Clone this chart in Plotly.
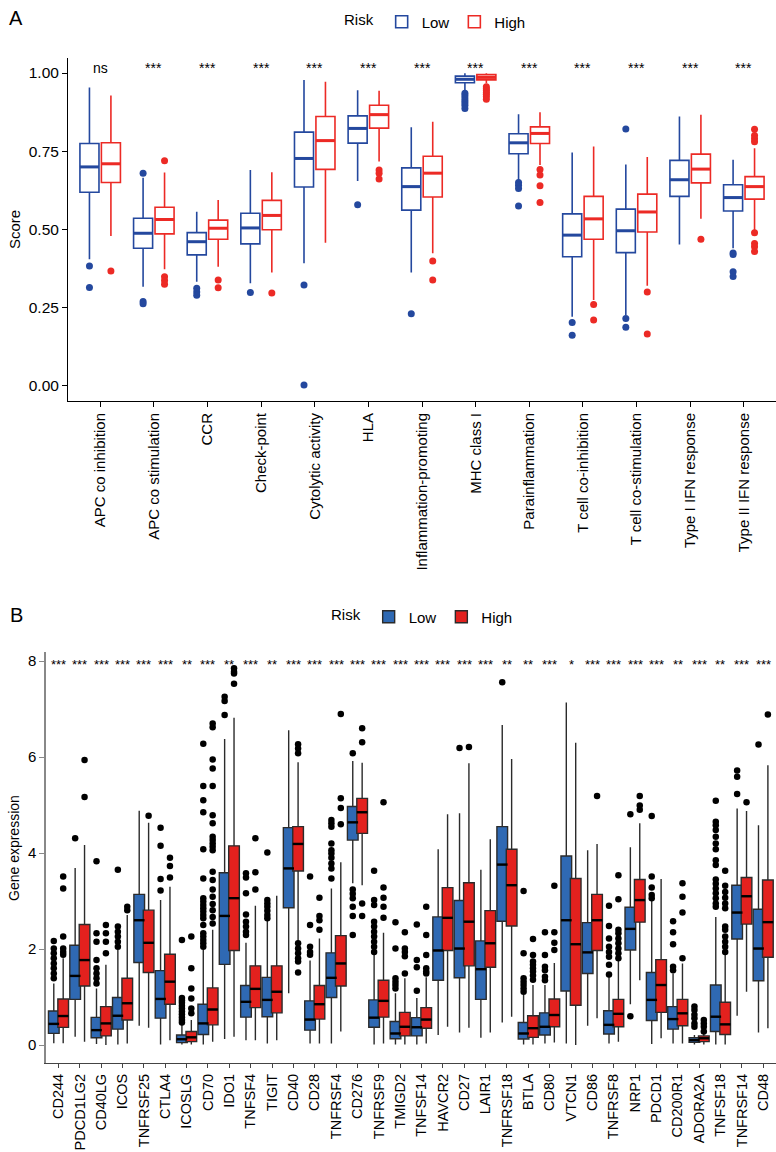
import plotly.graph_objects as go

# ---------------- Panel A data ----------------
cats_A = ["APC co inhibition", "APC co stimulation", "CCR", "Check-point",
          "Cytolytic activity", "HLA", "Inflammation-promoting", "MHC class I",
          "Parainflammation", "T cell co-inhibition", "T cell co-stimulation",
          "Type I IFN response", "Type II IFN response"]
sig_A = ["ns"] + ["***"] * 12

A_low_lf = [0.405, 0.317, 0.333, 0.328, 0.392, 0.655, 0.363, 0.946, 0.658, 0.221, 0.227, 0.452, 0.440]
A_low_q1 = [0.619, 0.440, 0.419, 0.454, 0.636, 0.776, 0.562, 0.969, 0.742, 0.413, 0.426, 0.606, 0.559]
A_low_md = [0.700, 0.488, 0.461, 0.505, 0.727, 0.823, 0.637, 0.980, 0.777, 0.482, 0.496, 0.659, 0.602]
A_low_q3 = [0.775, 0.536, 0.490, 0.552, 0.811, 0.863, 0.697, 0.990, 0.806, 0.550, 0.565, 0.721, 0.643]
A_low_uf = [0.954, 0.665, 0.557, 0.690, 0.978, 0.945, 0.827, 0.999, 0.868, 0.746, 0.708, 0.861, 0.723]
A_low_out = [[0.383, 0.315], [0.680, 0.270, 0.263], [0.312, 0.300, 0.290], [0.299],
             [0.323, 0.003], [0.579], [0.231],
             [0.935, 0.928, 0.920, 0.912, 0.905, 0.897, 0.887],
             [0.650, 0.641, 0.631, 0.575], [0.203, 0.162], [0.821, 0.216, 0.188], [],
             [0.425, 0.420, 0.365, 0.350]]

A_high_lf = [0.479, 0.373, 0.381, 0.363, 0.458, 0.717, 0.424, 0.967, 0.706, 0.275, 0.320, 0.534, 0.498]
A_high_q1 = [0.650, 0.486, 0.469, 0.499, 0.692, 0.824, 0.604, 0.978, 0.775, 0.469, 0.492, 0.649, 0.597]
A_high_md = [0.710, 0.532, 0.504, 0.545, 0.784, 0.867, 0.680, 0.986, 0.807, 0.534, 0.556, 0.693, 0.637]
A_high_q3 = [0.777, 0.571, 0.530, 0.593, 0.861, 0.897, 0.734, 0.995, 0.828, 0.606, 0.613, 0.741, 0.669]
A_high_uf = [0.928, 0.682, 0.594, 0.683, 0.972, 0.943, 0.844, 0.999, 0.875, 0.765, 0.732, 0.867, 0.760]
A_high_out = [[0.367], [0.720, 0.349, 0.337, 0.325], [0.339, 0.314], [0.297], [],
              [0.690, 0.680, 0.661], [0.399, 0.339],
              [0.956, 0.950, 0.944, 0.938, 0.932, 0.925, 0.916],
              [0.692, 0.674, 0.640, 0.586], [0.260, 0.211], [0.300, 0.166], [0.469],
              [0.820, 0.800, 0.790, 0.780, 0.490, 0.455, 0.445, 0.430]]

# ---------------- Panel B data ----------------
genes_B = ["CD244", "PDCD1LG2", "CD40LG", "ICOS", "TNFRSF25", "CTLA4", "ICOSLG", "CD70",
           "IDO1", "TNFSF4", "TIGIT", "CD40", "CD28", "TNFRSF4", "CD276", "TNFRSF9",
           "TMIGD2", "TNFSF14", "HAVCR2", "CD27", "LAIR1", "TNFRSF18", "BTLA", "CD80",
           "VTCN1", "CD86", "TNFRSF8", "NRP1", "PDCD1", "CD200R1", "ADORA2A", "TNFSF18",
           "TNFRSF14", "CD48"]
sig_B = ["***", "***", "***", "***", "***", "***", "**", "***", "**", "***", "**", "***",
         "***", "***", "***", "***", "***", "***", "***", "***", "***", "**", "**", "***",
         "*", "***", "***", "***", "***", "**", "***", "**", "***", "***"]

B_low_lf = [0.035, 0.17, 0.02, 0.01, 0.40, 0.01, 0.01, 0.01, 0.125, 0.10, 0.03, 1.08, 0.03, 0.03,
            3.37, 0.01, 0.01, 0.01, 0.21, 0.26, 0.15, 0.47, 0.01, 0.03, 0.03, 0.40, 0.03, 0.85,
            0.02, 0.03, 0.01, 0.01, 0.61, 0.26]
B_low_q1 = [0.243, 0.95, 0.15, 0.33, 1.72, 0.56, 0.05, 0.22, 1.68, 0.58, 0.59, 2.86, 0.31, 0.99,
            4.27, 0.37, 0.13, 0.19, 1.35, 1.40, 0.95, 2.58, 0.125, 0.21, 1.125, 1.49, 0.23, 1.98,
            0.51, 0.33, 0.055, 0.28, 2.21, 1.34]
B_low_md = [0.44, 1.44, 0.31, 0.61, 2.60, 0.96, 0.12, 0.45, 2.69, 0.90, 0.94, 3.68, 0.53, 1.40,
            4.64, 0.57, 0.24, 0.37, 1.97, 2.01, 1.58, 3.76, 0.24, 0.38, 2.60, 1.93, 0.42, 2.42,
            0.94, 0.54, 0.10, 0.59, 2.76, 2.01]
B_low_q3 = [0.708, 2.08, 0.576, 0.99, 3.14, 1.55, 0.21, 0.85, 3.59, 1.24, 1.41, 4.53, 0.92, 1.92,
            4.97, 0.94, 0.49, 0.57, 2.67, 3.01, 2.17, 4.55, 0.47, 0.67, 3.94, 2.55, 0.715, 2.87,
            1.51, 0.80, 0.15, 1.25, 3.33, 2.83]
B_low_uf = [1.28, 3.69, 1.18, 1.98, 4.88, 3.02, 0.42, 1.98, 6.375, 2.13, 2.60, 6.56, 1.76, 3.26,
            5.92, 1.875, 1.08, 0.98, 4.08, 4.83, 3.65, 6.67, 1.05, 1.25, 7.14, 4.06, 1.42, 4.12,
            3.00, 1.49, 0.21, 2.67, 4.93, 4.58]
B_low_out = [
    [2.17, 2.01, 1.91, 1.81, 1.70, 1.60, 1.49, 1.39],
    [4.31],
    [3.83, 2.33, 2.15, 1.77, 1.60, 1.49, 1.39, 1.28],
    [3.65, 2.47, 2.36, 2.26, 2.15, 2.05],
    [],
    [4.53, 4.15, 3.46, 3.22],
    [2.19, 0.98, 0.93, 0.88, 0.82, 0.76, 0.70, 0.64, 0.58, 0.52, 0.47],
    [6.28, 5.40, 5.10, 4.85, 4.08, 3.47, 3.06, 2.99, 2.92, 2.85, 2.78, 2.71, 2.64, 2.50, 2.33,
     2.26, 2.19, 2.12, 2.05],
    [7.26, 7.17, 6.875],
    [3.58, 3.49, 3.16, 2.72, 2.57, 2.47, 2.36, 2.29],
    [4.01, 3.02, 2.95, 2.88, 2.80, 2.71, 2.64],
    [],
    [3.51, 2.50, 2.05, 1.94, 1.88],
    [4.69, 4.62, 4.55, 4.20, 4.06, 3.99, 3.90, 3.78, 3.68, 3.47],
    [6.08, 3.24, 3.15, 3.06, 2.88, 2.69, 2.29],
    [3.63, 3.02, 2.92, 2.57, 2.47, 2.36, 2.26, 2.15, 2.05, 1.94],
    [2.56, 2.01, 1.39, 1.32, 1.25, 1.18],
    [2.51, 1.77, 1.62, 1.13],
    [],
    [6.19],
    [],
    [7.56],
    [3.21, 1.91, 1.39, 1.32, 1.25, 1.18, 1.11],
    [2.35, 1.875, 1.63, 1.56, 1.42, 1.35],
    [],
    [],
    [2.90, 2.48, 2.22, 2.05, 1.94, 1.84, 1.67, 1.47],
    [4.81, 0.60],
    [4.77, 3.51, 3.28, 3.125, 3.06],
    [2.58, 2.35, 2.10, 1.63, 1.56],
    [0.80, 0.73, 0.63, 0.56, 0.45, 0.38],
    [5.09, 4.65, 4.58, 4.48, 4.34, 4.20, 4.08, 3.85, 3.75, 3.45, 3.36, 3.26, 3.16, 3.06, 2.95, 2.88],
    [5.72, 5.59, 5.23],
    [6.26],
]

B_high_lf = [0.035, 0.07, 0.00, 0.03, 0.36, 0.10, 0.01, 0.07, 0.17, 0.10, 0.10, 2.17, 0.03, 0.28,
             3.33, 0.03, 0.01, 0.03, 0.38, 0.36, 0.26, 0.59, 0.01, 0.05, 0.00, 0.56, 0.07, 1.35,
             0.14, 0.03, 0.01, 0.01, 1.11, 0.35]
B_high_q1 = [0.368, 1.23, 0.19, 0.52, 1.51, 0.85, 0.07, 0.42, 1.97, 0.78, 0.67, 3.625, 0.54, 1.23,
             4.41, 0.58, 0.19, 0.35, 1.97, 1.65, 1.62, 2.48, 0.16, 0.38, 0.83, 1.97, 0.38, 2.56,
             0.68, 0.40, 0.07, 0.22, 2.52, 1.83]
B_high_md = [0.604, 1.77, 0.45, 0.87, 2.13, 1.32, 0.16, 0.74, 3.06, 1.17, 1.11, 4.19, 0.85, 1.70,
             4.85, 0.92, 0.38, 0.53, 2.65, 2.57, 2.12, 3.33, 0.35, 0.625, 2.10, 2.60, 0.65, 3.02,
             1.25, 0.66, 0.14, 0.43, 3.10, 2.56]
B_high_q3 = [0.958, 2.51, 0.80, 1.39, 2.81, 1.89, 0.28, 1.19, 4.15, 1.65, 1.65, 4.55, 1.24, 2.28,
             5.14, 1.35, 0.68, 0.78, 3.28, 3.38, 2.80, 4.08, 0.61, 0.96, 3.47, 3.14, 0.95, 3.45,
             1.78, 0.95, 0.19, 0.89, 3.49, 3.44]
B_high_uf = [1.81, 4.17, 1.67, 2.71, 4.63, 3.30, 0.52, 2.40, 6.82, 2.90, 3.11, 5.89, 2.22, 3.81,
             5.88, 2.34, 1.39, 1.41, 4.81, 5.87, 4.29, 5.96, 1.25, 1.71, 6.30, 4.19, 1.77, 4.62,
             3.46, 1.70, 0.24, 1.875, 4.875, 5.83]
B_high_out = [
    [3.51, 3.26, 2.26, 2.01, 1.94, 1.88],
    [5.94, 5.17],
    [2.50, 2.33, 2.15, 1.91],
    [2.88, 2.81],
    [4.78],
    [3.90, 3.73, 3.49],
    [2.26, 1.60, 1.18, 0.97, 0.76, 0.66],
    [6.70, 6.62, 5.95, 5.76, 5.40, 4.79, 4.62, 4.34, 4.27, 4.20, 4.13, 4.06, 3.61, 3.44, 3.24,
     3.09, 2.94, 2.81, 2.67, 2.53],
    [7.85, 7.78, 7.74, 7.53],
    [4.31, 3.60, 3.24],
    [],
    [6.27, 6.18, 6.08, 2.12, 2.01, 1.91, 1.81, 1.74, 1.51],
    [3.07, 2.69, 2.60, 2.40],
    [6.90, 5.14, 4.94, 4.60],
    [6.60, 6.31, 2.95, 2.69],
    [5.06, 3.28, 3.07, 2.88, 2.65],
    [2.35, 2.01, 1.94, 1.85, 1.49],
    [2.88, 2.29, 1.875, 1.60, 1.53, 1.49],
    [],
    [6.21],
    [],
    [],
    [2.21, 1.875, 1.74, 1.67, 1.60, 1.53, 1.45, 1.36],
    [3.32, 2.35, 2.13, 1.98],
    [],
    [5.19],
    [3.54, 3.04, 2.40, 2.33, 2.22, 2.12, 2.01, 1.91, 1.81],
    [5.19, 4.99, 4.90],
    [],
    [3.37, 3.09, 2.76, 1.81],
    [0.52, 0.45, 0.38, 0.28],
    [3.63, 3.32, 3.19, 3.07, 2.95, 2.85, 2.47, 2.40, 2.26, 2.15, 2.05, 1.94],
    [5.06],
    [6.89],
]

# ---------------- styles ----------------
FONT = "Liberation Sans, Arial, Helvetica, sans-serif"
W, H = 776, 1152
A_BLUE, A_RED = "#24489E", "#EC2A25"
B_BLUE, B_RED, B_EDGE = "#2F69B3", "#E3211E", "#2B2B2B"

fig = go.Figure()


def add_series(xa, ya, offset, width, lf, q1, md, q3, uf, outs, name, line_color,
               fill_color, med_color, pt_color, pt_size, legend, lw, mw):
    n = len(q1)
    xs = [i + offset for i in range(n)]
    fig.add_trace(go.Box(
        x=xs, lowerfence=lf, q1=q1, median=md, q3=q3, upperfence=uf,
        width=width, name=name, line=dict(color=line_color, width=lw),
        fillcolor=fill_color, whiskerwidth=0, boxpoints=False,
        xaxis=xa, yaxis=ya, legend=legend, hoverinfo="skip"))
    mx, my = [], []
    for i in range(n):
        mx += [xs[i] - width / 2, xs[i] + width / 2, None]
        my += [md[i], md[i], None]
    fig.add_trace(go.Scatter(x=mx, y=my, mode="lines", line=dict(color=med_color, width=mw),
                             xaxis=xa, yaxis=ya, showlegend=False, hoverinfo="skip"))
    ox, oy = [], []
    for i in range(n):
        for v in outs[i]:
            ox.append(xs[i])
            oy.append(v)
    fig.add_trace(go.Scatter(x=ox, y=oy, mode="markers",
                             marker=dict(color=pt_color, size=pt_size, line=dict(width=0)),
                             xaxis=xa, yaxis=ya, showlegend=False, hoverinfo="skip"))


# Panel A (open boxes)
add_series("x", "y", -0.2, 0.355, A_low_lf, A_low_q1, A_low_md, A_low_q3, A_low_uf, A_low_out,
           "Low", A_BLUE, "white", A_BLUE, A_BLUE, 7, "legend", 1.6, 3)
add_series("x", "y", 0.2, 0.355, A_high_lf, A_high_q1, A_high_md, A_high_q3, A_high_uf, A_high_out,
           "High", A_RED, "white", A_RED, A_RED, 7, "legend", 1.6, 3)

# Panel B (filled boxes)
add_series("x2", "y2", -0.22, 0.5, B_low_lf, B_low_q1, B_low_md, B_low_q3, B_low_uf, B_low_out,
           "Low", B_EDGE, B_BLUE, "black", "black", 6.5, "legend2", 1.4, 2.4)
add_series("x2", "y2", 0.22, 0.5, B_high_lf, B_high_q1, B_high_md, B_high_q3, B_high_uf, B_high_out,
           "High", B_EDGE, B_RED, "black", "black", 6.5, "legend2", 1.4, 2.4)

ann = []
for i, s in enumerate(sig_A):
    ann.append(dict(x=i, y=1.016, xref="x", yref="y", text=s, showarrow=False,
                    font=dict(size=14, color="black"), yanchor="middle"))
for i, s in enumerate(sig_B):
    ann.append(dict(x=i, y=7.94, xref="x2", yref="y2", text=s, showarrow=False,
                    font=dict(size=13, color="black"), yanchor="middle"))
ann += [
    dict(x=7 / W, y=1 - 18 / H, xref="paper", yref="paper", text="A", showarrow=False,
         xanchor="left", yanchor="middle", font=dict(size=20, color="black")),
    dict(x=8 / W, y=1 - 615 / H, xref="paper", yref="paper", text="B", showarrow=False,
         xanchor="left", yanchor="middle", font=dict(size=20, color="black")),
    dict(x=14 / W, y=1 - 229 / H, xref="paper", yref="paper", text="Score", showarrow=False,
         textangle=-90, xanchor="center", yanchor="middle", font=dict(size=15, color="black")),
    dict(x=14 / W, y=1 - 848 / H, xref="paper", yref="paper", text="Gene expression",
         showarrow=False, textangle=-90, xanchor="center", yanchor="middle",
         font=dict(size=14, color="black")),
]

axis_common = dict(showgrid=False, zeroline=False, showline=True, ticks="outside",
                   automargin=False)

fig.update_layout(
    width=W, height=H, margin=dict(l=0, r=0, t=0, b=0),
    paper_bgcolor="white", plot_bgcolor="white",
    font=dict(family=FONT, color="black"),
    showlegend=True,
    xaxis=dict(domain=[68 / W, 1], anchor="y", range=[-0.6, 12.6],
               tickvals=list(range(len(cats_A))), ticktext=cats_A, tickangle=-90,
               tickfont=dict(size=15, color="black"),
               linecolor="black", linewidth=1, tickcolor="black", ticklen=5, **axis_common),
    yaxis=dict(domain=[1 - 401 / H, 1 - 58 / H], anchor="x", range=[-0.048, 1.048],
               tickvals=[0, 0.25, 0.5, 0.75, 1.0],
               ticktext=["0.00", "0.25", "0.50", "0.75", "1.00"],
               tickfont=dict(size=15.5, color="black"),
               linecolor="black", linewidth=1, tickcolor="black", ticklen=5, **axis_common),
    xaxis2=dict(domain=[46 / W, 1], anchor="y2", range=[-0.585, 33.6],
                tickvals=list(range(len(genes_B))), ticktext=genes_B, tickangle=-90,
                tickfont=dict(size=14.5, color="black"),
                linecolor="#444444", linewidth=1.2, tickcolor="#444444", ticklen=4, **axis_common),
    yaxis2=dict(domain=[1 - 1063 / H, 1 - 652 / H], anchor="x2", range=[-0.375, 8.19],
                tickvals=[0, 2, 4, 6, 8], ticktext=["0", "2", "4", "6", "8"],
                tickfont=dict(size=15, color="black"),
                linecolor="#888888", linewidth=1.5, tickcolor="#888888", ticklen=5, **axis_common),
    legend=dict(orientation="h", x=342 / W, y=1 - 22 / H, xanchor="left", yanchor="middle",
                title=dict(text="Risk", side="left", font=dict(size=15)),
                font=dict(size=15), bgcolor="rgba(0,0,0,0)"),
    legend2=dict(orientation="h", x=329 / W, y=1 - 617 / H, xanchor="left", yanchor="middle",
                 title=dict(text="Risk", side="left", font=dict(size=15)),
                 font=dict(size=15), bgcolor="rgba(0,0,0,0)"),
    annotations=ann,
)

fig.write_html("out.html", config={"displayModeBar": False},
               post_script="document.body.style.margin='0';document.body.style.padding='0';")
